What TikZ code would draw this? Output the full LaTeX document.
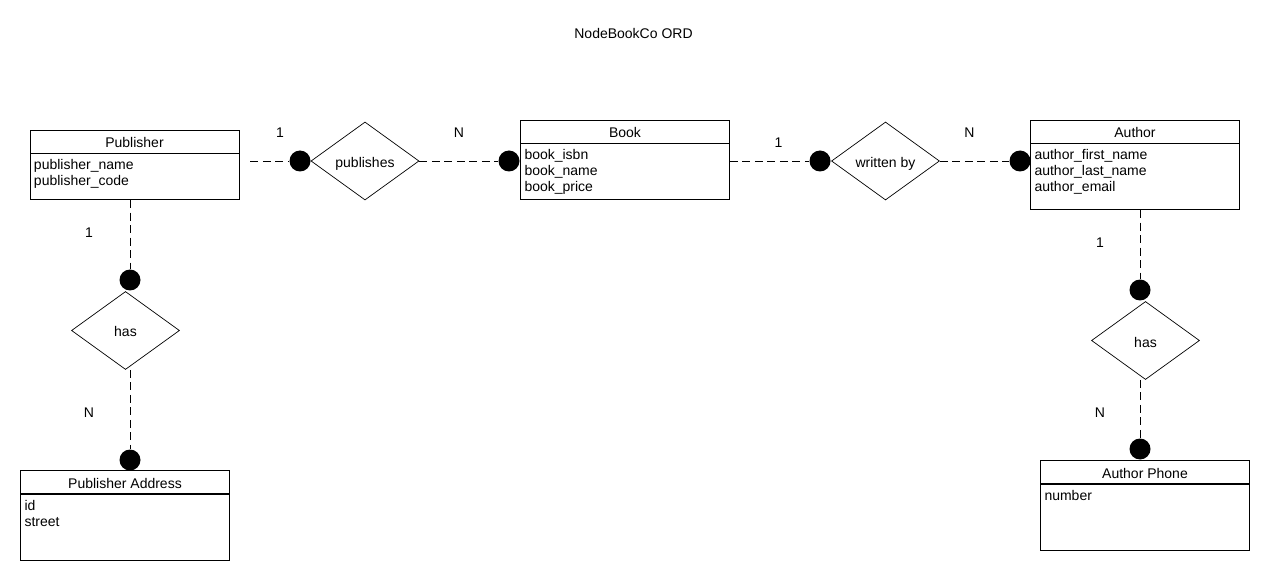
\documentclass[tikz,border=0pt]{standalone}
\usepackage{fontspec}
\setmainfont{Liberation Sans}
\usetikzlibrary{shapes.geometric,positioning}

\tikzset{
  entityhead/.style={draw, rectangle, minimum width=209, minimum height=23, inner sep=0pt, text height=13pt, text depth=0pt},
  entitybody/.style={draw, rectangle, minimum width=209, inner sep=0pt},
  attrtext/.style={anchor=north west, align=left, inner xsep=4pt, inner ysep=6pt},
  relation/.style={draw, diamond, aspect=1.4, minimum width=108, minimum height=78, inner sep=0pt, text height=13pt, text depth=0pt},
  joint/.style={circle, fill=black, minimum size=21, inner sep=0pt},
  conn/.style={dash pattern=on 8pt off 4.5pt},
  card/.style={inner sep=0pt}
}

\begin{document}
\begin{tikzpicture}[x=1pt, y=-1pt, line width=0.7pt, font=\fontsize{14}{16}\selectfont]

  % Page frame
  \useasboundingbox (0,0) rectangle (1270,580);
  \fill[white] (0,0) rectangle (1270,580);

  % Title
  \node (title) at (633.5,33) {NodeBookCo ORD};

  % Entities
  \node[entityhead] (publisher) at (134.5,141.5) {Publisher};
  \node[entitybody, minimum height=46, below=0pt of publisher] (publisherattr) {};
  \node[attrtext] (publishertext) at (publisherattr.north west) {publisher\_name\\publisher\_code};

  \node[entityhead] (book) at (625,131.5) {Book};
  \node[entitybody, minimum height=56, below=0pt of book] (bookattr) {};
  \node[attrtext] (booktext) at (bookattr.north west) {book\_isbn\\book\_name\\book\_price};

  \node[entityhead] (author) at (1135,131.5) {Author};
  \node[entitybody, minimum height=66, below=0pt of author] (authorattr) {};
  \node[attrtext] (authortext) at (authorattr.north west) {author\_first\_name\\author\_last\_name\\author\_email};

  \node[entityhead] (pubaddress) at (125,482) {Publisher Address};
  \node[entitybody, minimum height=66, below=0pt of pubaddress] (pubaddressattr) {};
  \node[attrtext] (pubaddresstext) at (pubaddressattr.north west) {id\\street};

  \node[entityhead] (authphone) at (1145,472) {Author Phone};
  \node[entitybody, minimum height=66, below=0pt of authphone] (authphoneattr) {};
  \node[attrtext] (authphonetext) at (authphoneattr.north west) {number};

  % Relationships
  \node[relation] (publishes) at (365,161) {publishes};
  \node[relation] (writtenby) at (885.5,161) {written by};
  \node[relation] (pubhas) at (125.5,330.5) {has};
  \node[relation] (authhas) at (1145.5,340.5) {has};

  % Joints
  \node[joint] (pubdot) at (300,161) {};
  \node[joint] (bookdot) at (509,161) {};
  \node[joint] (wbdot) at (820,161) {};
  \node[joint] (authdot) at (1020,161) {};
  \node[joint] (pubhasdot) at (130,280) {};
  \node[joint] (pubaddrdot) at (130,460) {};
  \node[joint] (authhasdot) at (1140,290) {};
  \node[joint] (authphonedot) at (1140,449) {};

  % Connectors
  \draw[conn, shorten <=11pt] (publisherattr.east |- pubdot) -- (pubdot);
  \draw[conn] (publishes) -- (bookdot);
  \draw[conn] (bookattr.east |- wbdot) -- (wbdot);
  \draw[conn] (writtenby) -- (authdot);
  \draw[conn] (publisherattr.south -| pubhasdot) -- (pubhasdot);
  \draw[conn] (pubhas.south -| pubaddrdot) -- (pubaddrdot);
  \draw[conn] (authorattr.south -| authhasdot) -- (authhasdot);
  \draw[conn] (authhas.south -| authphonedot) -- (authphonedot);

  % Cardinalities
  \node[card] (cardpub) at (280,133) {1};
  \node[card] (cardbook) at (459,133) {N};
  \node[card] (cardwb) at (778.5,143) {1};
  \node[card] (cardauth) at (969.5,133) {N};
  \node[card] (cardpubhas) at (89,233) {1};
  \node[card] (cardpubaddr) at (89,412.5) {N};
  \node[card] (cardauthhas) at (1100,243) {1};
  \node[card] (cardauthphone) at (1100,412.5) {N};

\end{tikzpicture}
\end{document}
